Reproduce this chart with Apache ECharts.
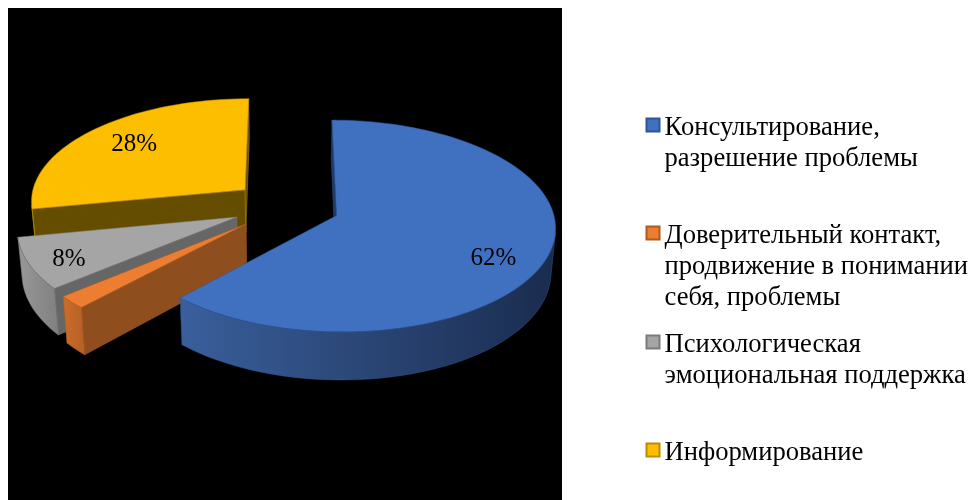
<!DOCTYPE html>
<html><head><meta charset="utf-8">
<style>html,body{margin:0;padding:0;background:#fff}#c{width:974px;height:500px}</style>
<script src="https://cdn.jsdelivr.net/npm/echarts@6/dist/echarts.min.js"></script>
</head><body><div id="c"></div>
<script>
const categories = ['Консультирование,\nразрешение проблемы','Доверительный контакт,\nпродвижение в понимании\nсебя, проблемы','Психологическая\nэмоциональная поддержка','Информирование'];
const values = [62, 2, 8, 28];
const pctLabels = ['62%', null, '8%', '28%'];
const topColors = ['#4070C0','#ED7D31','#A5A5A5','#FDBE00'];
const borderColors = ['#2F5597','#AE5A21','#7B7B7B','#BC8C00'];
const wallColors = ['#1F3864','#8F4E1E','#666666','#654D00'];
const rimColors = [['#3A5F9C','#1A2C4E'],['#CC6C2A','#B56026'],['#989898','#808080'],['#7A5C00','#654D00']];
const drawOrder = [4, 3, 2, 1];
const labelSpots = [[0.79,120],[0,0],[0.83,242],[0.73,310.5]];
const legendCenters = [125, 233, 342, 450];

const CX=286, CY=206, RX=215.5, RY=103, K=0.0974, EXPLODE=0.25, DEPTH=43, SHRINK=0.983, LH=31, TEXT_DROP=3.5;
const total = values.reduce((a,b)=>a+b,0);
const rad = d => d*Math.PI/180;
function sliceAngles(i){
  const before = values.slice(0,i).reduce((a,b)=>a+b,0);
  return [before/total*360, (before+values[i])/total*360];
}
function project(u,v){
  const s = 1/(1-K*v);
  const x = CX+RX*u*s, y = CY+RY*v*s;
  return {top:[x,y], bot:[CX+(x-CX)*SHRINK, y+DEPTH*s]};
}
function area(p){let a=0;for(let i=0;i<p.length;i++){const q=p[(i+1)%p.length];a+=p[i][0]*q[1]-q[0]*p[i][1];}return a;}
function renderSlice(i){
  const [a0,a1] = sliceAngles(i), mid = rad((a0+a1)/2);
  const ox = EXPLODE*Math.sin(mid), oy = -EXPLODE*Math.cos(mid);
  const at = (r,deg)=>project(ox+r*Math.sin(rad(deg)), oy-r*Math.cos(rad(deg)));
  const steps = Math.max(6,Math.round((a1-a0)/2));
  const arc=[]; for(let k=0;k<=steps;k++) arc.push(at(1,a0+(a1-a0)*k/steps));
  const apex = at(0,0);
  const children=[];
  const stroke = {stroke:borderColors[i],lineWidth:0.5};
  const addWall=(A,B)=>{
    const pts=[A.top,B.top,B.bot,A.bot];
    if(area(pts)<0) children.push({type:'polygon',shape:{points:pts},style:{fill:wallColors[i],...stroke}});
  };
  addWall(apex,arc[0]); addWall(arc[steps],apex);
  let run=[];
  const flush=()=>{
    if(run.length>1){
      const pts=run.map(p=>p.top).concat(run.map(p=>p.bot).reverse());
      children.push({type:'polygon',shape:{points:pts},style:{fill:new echarts.graphic.LinearGradient(0,0,1,0,[{offset:0,color:rimColors[i][0]},{offset:1,color:rimColors[i][1]}]),...stroke}});
    }
    run=[];
  };
  for(let k=0;k<steps;k++){
    const seg=[arc[k].top,arc[k+1].top,arc[k+1].bot,arc[k].bot];
    if(area(seg)<0){ if(!run.length) run.push(arc[k]); run.push(arc[k+1]); } else flush();
  }
  flush();
  children.push({type:'polygon',shape:{points:[apex.top].concat(arc.map(p=>p.top))},style:{fill:topColors[i],...stroke}});
  if(pctLabels[i]){
    const p=at(labelSpots[i][0],labelSpots[i][1]).top;
    children.push({type:'text',style:{text:pctLabels[i],x:p[0],y:p[1],fill:'#000',font:'25px "Liberation Serif"',align:'center',verticalAlign:'middle'}});
  }
  return {type:'group',children};
}
const chart = echarts.init(document.getElementById('c'),null,{renderer:'canvas'});
chart.setOption({
  animation:false,
  backgroundColor:'#fff',
  graphic:[{type:'rect',z:-10,silent:true,shape:{x:8,y:8,width:554,height:492},style:{fill:'#000'}}],
  legend: categories.map((name,i)=>{
    const lines=name.split('\n'), n=lines.length, spacer=(n-1)*LH+2*TEXT_DROP;
    return {data:[name],left:645.5,top:legendCenters[i]-(spacer+n*LH)/2,padding:0,orient:'vertical',selectedMode:false,icon:'rect',
      itemWidth:13,itemHeight:13,itemGap:0,
      formatter:()=>'{b| }\n'+lines.map(l=>'{t|'+l+'}').join('\n'),
      textStyle:{color:'#000',rich:{
        b:{fontSize:1,lineHeight:spacer,height:spacer},
        t:{color:'#000',fontFamily:'Liberation Serif',fontSize:26.6,lineHeight:LH,height:LH}
      }}};
  }),
  series: categories.map((name,i)=>({
    type:'custom',name,coordinateSystem:'none',z:drawOrder[i],silent:true,
    itemStyle:{color:topColors[i],borderColor:borderColors[i],borderWidth:1},
    data:[values[i]],
    renderItem:()=>renderSlice(i)
  }))
});
</script></body></html>
